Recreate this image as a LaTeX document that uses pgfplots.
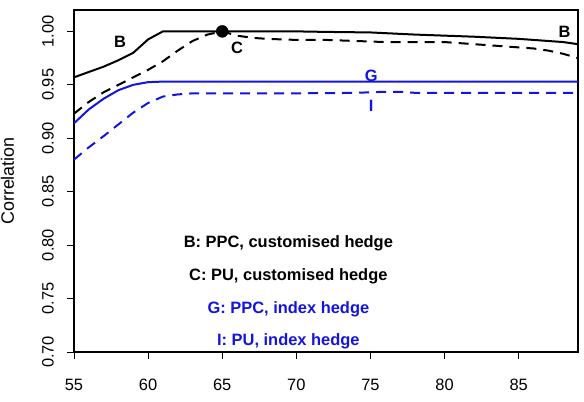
\documentclass[border=0pt]{standalone}
\usepackage{fontspec}
\setmainfont{Liberation Sans}
\usepackage{pgfplots}
\pgfplotsset{compat=1.18}
\definecolor{rblue}{RGB}{20,20,225}

\begin{document}
\begin{tikzpicture}[ann/.style={font=\fontsize{16.5}{19}\selectfont\bfseries}]
\begin{axis}[
  scale only axis,
  width=504bp, height=342bp,
  xmin=55, xmax=89, ymin=0.70, ymax=1.02,
  xtick={55,60,65,70,75,80,85},
  ytick={0.70,0.75,0.80,0.85,0.90,0.95,1.00},
  tick align=outside,
  xtick pos=bottom, ytick pos=left,
  major tick length=7bp,
  every tick/.style={black, line width=0.8bp},
  axis line style={line width=1.1bp},
  font=\fontsize{16.5}{19}\selectfont,
  /pgf/number format/assume math mode=true,
  yticklabel style={rotate=90, anchor=south, inner sep=0pt, yshift=13bp,
    /pgf/number format/.cd, fixed, fixed zerofill, precision=2},
  xticklabel style={anchor=north, inner sep=0pt, yshift=-20bp,
    /pgf/number format/.cd, fixed, precision=0},
  every axis y label/.style={at={(axis description cs:-0.132,0.5)},
    rotate=90, anchor=center, font=\fontsize{18}{21}\selectfont},
  ylabel={Correlation},
]

% B: PPC, customised hedge
\addplot[black, line width=2bp] coordinates {
  (55,0.957) (56,0.962) (57,0.967) (58,0.973) (59,0.980) (60,0.9925)
  (61,1.000) (65,1.000) (70,1.000) (72,0.9995) (75,0.999) (78,0.997)
  (80,0.996) (82,0.995) (85,0.993) (86,0.992) (87,0.991) (88,0.990)
  (89,0.988)
};
% C: PU, customised hedge
\addplot[black, line width=2bp, dash pattern=on 10bp off 7bp] coordinates {
  (55,0.923) (56,0.934) (57,0.943) (58,0.950) (59,0.957) (60,0.964)
  (61,0.972) (62,0.982) (63,0.991) (64,0.997) (65,1.000) (66,0.996)
  (67,0.994) (68,0.993) (70,0.992) (72,0.992) (74,0.991) (76,0.990)
  (78,0.990) (80,0.990) (82,0.988) (84,0.986) (86,0.984) (87,0.982)
  (88,0.979) (89,0.975)
};
% G: PPC, index hedge
\addplot[rblue, line width=2bp] coordinates {
  (55,0.914) (56,0.927) (57,0.937) (58,0.945) (59,0.950) (60,0.9525)
  (61,0.953) (70,0.953) (80,0.953) (89,0.953)
};
% I: PU, index hedge
\addplot[rblue, line width=2bp, dash pattern=on 10bp off 7bp] coordinates {
  (55,0.880) (56,0.8915) (57,0.902) (58,0.913) (59,0.924) (60,0.933)
  (61,0.939) (62,0.941) (63,0.942) (65,0.942) (70,0.942) (74,0.9425)
  (75,0.943) (76,0.9435) (77,0.9435) (78,0.9425) (80,0.9425) (89,0.9425)
};
% point where C meets B
\addplot[only marks, mark=*, mark size=6bp, black] coordinates {(65,1.000)};

\node[ann] at (axis cs:58.1,0.990) {B};
\node[ann] at (axis cs:66.0,0.9847) {C};
\node[ann] at (axis cs:88.1,1.000) {B};
\node[ann, text=rblue] at (axis cs:75.05,0.9588) {G};
\node[ann, text=rblue] at (axis cs:75.05,0.930) {I};

\node[ann] at (axis cs:69.46,0.8013) {B: PPC, customised hedge};
\node[ann] at (axis cs:69.46,0.7713) {C: PU, customised hedge};
\node[ann, text=rblue] at (axis cs:69.46,0.7403) {G: PPC, index hedge};
\node[ann, text=rblue] at (axis cs:69.46,0.7103) {I: PU, index hedge};
\end{axis}
\pgfresetboundingbox
\path ([shift={(-74bp,-50bp)}]current axis.south west) rectangle ([shift={(6bp,10bp)}]current axis.north east);
\end{tikzpicture}
\end{document}
